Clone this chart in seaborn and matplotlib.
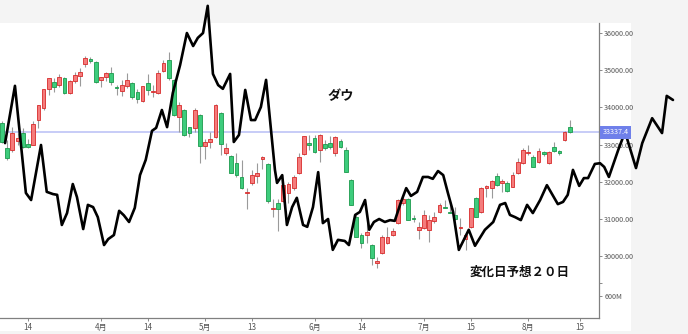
import numpy as np
import pandas as pd
import matplotlib
matplotlib.use("Agg")
import matplotlib.pyplot as plt
import matplotlib.transforms as mtransforms
from matplotlib.patches import Rectangle
import seaborn as sns

# ---- data (trading-day index, 0 = 14 March) ----
day = list(range(-5, 105))
opens = [33580, 32910, 32850, 33100, 33310, 33020, 32990, 33660, 33980, 34500,
         34680, 34600, 34790, 34390, 34710, 34840, 35170, 35300, 35220, 34740,
         34820, 34930, 34550, 34440, 34580, 34660, 34410, 34170, 34660, 34410,
         34390, 34980, 35270, 34740, 33740, 33930, 33470, 33450, 33800, 32960,
         33070, 33200, 33850, 32770, 32690, 32510, 32130, 31700, 31970, 32160,
         32610, 32480, 31270, 31430, 31480, 31700, 31830, 32240, 32750, 33040,
         33180, 32860, 33020, 33040, 32770, 33100, 32860, 32050, 31050, 30570,
         30570, 30300, 29820, 30090, 30360, 30570, 30890, 31430, 31540, 31030,
         30700, 30760, 30700, 30950, 31190, 31320, 31190, 31110, 30760, 30460,
         30790, 31570, 31190, 31830, 31830, 32160, 31970, 31970, 31860, 32240,
         32510, 32770, 32670, 32530, 32800, 32510, 32940, 32830, 33120, 33470]
highs = [33630, 33120, 33470, 33310, 33450, 33150, 33630, 34070, 34500, 34790,
         34790, 34900, 34820, 34740, 34950, 35060, 35380, 35360, 35250, 34820,
         34950, 35090, 34600, 34740, 34930, 34680, 34500, 34580, 34900, 34600,
         35010, 35270, 35490, 34760, 34150, 33960, 33480, 33980, 33820, 33150,
         33340, 34090, 33870, 33040, 32720, 32770, 32590, 31830, 32320, 32510,
         32690, 32510, 31540, 31540, 31940, 32000, 32180, 32770, 33240, 33260,
         33260, 33280, 33120, 33230, 33220, 33150, 32940, 32070, 31110, 30620,
         30890, 30320, 29980, 30570, 30790, 30760, 31530, 31590, 31570, 31110,
         30920, 31240, 31110, 31190, 31430, 31510, 31460, 31320, 31030, 30620,
         31300, 31590, 31860, 31910, 32050, 32240, 32080, 32020, 32260, 32640,
         32910, 32990, 32720, 32910, 32830, 32830, 33070, 32860, 33370, 33660]
lows = [33040, 32590, 32800, 32990, 32910, 32910, 32990, 33450, 33930, 34330,
        34410, 34550, 34360, 34360, 34660, 34580, 35090, 35190, 34650, 34550,
        34710, 34600, 34330, 34310, 34520, 34230, 34120, 34150, 34330, 34280,
        34360, 34950, 34740, 33780, 33340, 33240, 33210, 33340, 32510, 32610,
        32910, 33180, 32720, 32720, 32240, 32130, 31800, 31270, 31910, 31970,
        32340, 31430, 31050, 30680, 31460, 31430, 31780, 32220, 32720, 32860,
        32770, 32530, 32860, 32880, 32690, 32910, 32260, 31380, 30520, 30220,
        30360, 29760, 29680, 30060, 30340, 30550, 30870, 31380, 30970, 30920,
        30460, 30730, 30380, 30890, 31160, 31290, 31160, 30970, 30570, 30170,
        30760, 31050, 31160, 31590, 31570, 31890, 31730, 31730, 31860, 32220,
        32490, 32720, 32400, 32500, 32690, 32490, 32800, 32720, 33100, 33310]
closes = [33070, 32640, 33310, 33180, 32940, 32940, 33550, 34070, 34500, 34790,
          34550, 34820, 34390, 34710, 34870, 34950, 35330, 35250, 34680, 34820,
          34930, 34680, 34520, 34600, 34740, 34280, 34230, 34580, 34470, 34440,
          34930, 35190, 34790, 33800, 34070, 33260, 33310, 33930, 32960, 33070,
          33150, 34070, 33020, 32910, 32240, 32180, 31830, 31730, 32180, 32240,
          32670, 31480, 31300, 31270, 31910, 31940, 32130, 32670, 33230, 32990,
          32800, 33260, 32910, 32940, 33200, 32940, 32260, 31380, 30520, 30360,
          30650, 29950, 29870, 30520, 30520, 30680, 31510, 31540, 30970, 31000,
          30790, 31110, 30970, 31050, 31380, 31300, 31160, 31000, 30790, 30570,
          31300, 31050, 31830, 31890, 32020, 31910, 32020, 31750, 32180, 32530,
          32850, 32800, 32400, 32830, 32750, 32800, 32830, 32770, 33340, 33337]

# forecast line (trading-day index, value)
line_day = [-4.4, -2.5, -0.4, 0.6, 2.5, 3.6, 4.8, 5.6, 6.5, 7.5, 8.6, 9.4, 10.6,
            11.5, 12.5, 13.4, 14.6, 15.4, 16.5, 17.5, 18.4, 19.4, 20.5, 21.5,
            22.6, 23.8, 24.6, 25.7, 26.7, 27.8, 29.2, 30.5, 31.7, 32.6, 33.6,
            34.5, 35.5, 36.5, 37.4, 38.8, 39.5, 40.5, 41.7, 42.8, 43.6, 44.7,
            45.7, 47.4, 47.8, 48.8, 49.7, 50.7, 51.6, 52.8, 53.6, 54.7, 55.7,
            56.6, 57.6, 58.5, 59.5, 60.8, 61.6, 62.8, 63.7, 64.7, 65.5, 66.4,
            67.4, 68.5, 69.5, 70.4, 71.6, 72.6, 73.5, 74.7, 75.8, 76.8, 77.7,
            78.7, 79.7, 80.6, 81.6, 82.7, 84.6, 85.8, 87.7, 89.3, 90.6, 91.6,
            92.5, 93.5, 94.6, 95.8, 96.9, 98.3, 99.6, 101.7, 102.7, 103.6,
            104.6, 105.8, 106.7, 107.5, 108.8, 109.8, 110.6, 111.5, 113.3,
            114.6, 116.7, 117.9, 119.8, 121.7, 122.6, 123.8]
line_value = [33040, 34580, 31700, 31510, 32990, 31730, 31670, 31650, 30840,
              31160, 31940, 31590, 30730, 31380, 31320, 31050, 30300, 30460,
              30570, 31220, 31100, 30920, 31300, 32180, 32590, 33370, 33450,
              33930, 33470, 34390, 35140, 36000, 35650, 35870, 36000, 36730,
              34900, 34600, 34500, 34900, 33070, 33260, 34470, 33660, 33660,
              34010, 34740, 32320, 31970, 32180, 30840, 31320, 31570, 30840,
              30790, 31320, 32260, 30890, 31000, 30170, 30440, 30410, 30300,
              31110, 31190, 31510, 30710, 30920, 31000, 30920, 30970, 30950,
              31460, 31830, 31620, 31730, 32130, 32130, 32080, 32290, 32180,
              31700, 31190, 30170, 30710, 30280, 30710, 30920, 31380, 31430,
              31110, 31050, 30970, 31380, 31160, 31510, 31910, 31400, 31460,
              31650, 32320, 31890, 32100, 32100, 32480, 32500, 32400, 32130,
              32860, 33340, 32370, 33040, 33710, 33310, 34310, 34200]

tick_days = [0, 14, 23, 34, 43, 55, 64, 76, 85, 96, 106]
tick_labels = ["14", "4月", "14", "5月", "13", "6月", "14", "7月", "15", "8月", "15"]
price_ticks = [36000, 35000, 34000, 33000, 32000, 31000, 30000]
vol_ticks = [29280, 28930]
vol_labels = ["", "600M"]
last_price = 33337.4

# ---- style ----
sns.set_theme(style="white")
plt.rcParams["font.family"] = ["Liberation Sans Narrow", "Noto Sans CJK JP", "DejaVu Sans"]

df = pd.DataFrame({"day": day, "open": opens, "high": highs, "low": lows, "close": closes})
up = df["close"] >= df["open"]
face = np.where(up, "#f47c7c", "#3dcc7c")
edge = np.where(up, "#d82a2a", "#1b9a4c")

fig = plt.figure(figsize=(6.88, 3.34), dpi=100, facecolor="#f4f4f4")
fig.patches.append(Rectangle((0, 3 / 334), 631 / 688, 308 / 334, transform=fig.transFigure,
                             facecolor="white", edgecolor="none", zorder=-5))
ax = fig.add_axes([0, 16 / 334, 599 / 688, 295 / 334])
ax.set_facecolor("none")

# reference line
ax.axhline(last_price, color="#c3c8f7", lw=1.3, zorder=1)

# candles
ax.vlines(df["day"], df["low"], df["high"], color="#9a9a9a", lw=0.8, zorder=2)
ax.bar(df["day"], (df["close"] - df["open"]).abs(), bottom=np.minimum(df["open"], df["close"]),
       width=0.72, color=face, edgecolor=edge, linewidth=0.6, zorder=3)

# forecast line
sns.lineplot(x=line_day, y=line_value, sort=False, estimator=None, color="black",
             lw=1.9, ax=ax, clip_on=False, zorder=6)

ax.set_xlim(-5.37, 109.6)
ax.set_ylim(28339, 36269)

ax.yaxis.tick_right()
ax.set_yticks(price_ticks + vol_ticks,
              [f"{v:.2f}" for v in price_ticks] + vol_labels)
ax.set_xticks(tick_days, tick_labels)
ax.tick_params(axis="y", length=2.5, width=0.6, color="#777777", labelsize=5.2,
               labelcolor="#555555", pad=1.2, right=True, left=False)
ax.tick_params(axis="x", length=2.5, width=0.6, color="#777777", labelsize=5.8,
               labelcolor="#555555", pad=1.2, bottom=True)
for s in ["left", "top"]:
    ax.spines[s].set_visible(False)
for s in ["right", "bottom"]:
    ax.spines[s].set_color("#808080")
    ax.spines[s].set_linewidth(0.9)
ax.set_xlabel("")
ax.set_ylabel("")
ax.grid(False)

trans = mtransforms.blended_transform_factory(ax.transAxes, ax.transData)
ax.text(1.006, last_price, f"{last_price:.1f}", transform=trans, ha="left", va="center",
        fontsize=5.2, color="white", zorder=7,
        bbox=dict(boxstyle="square,pad=0.35", fc="#6f80ea", ec="none"))

fig.text(341 / 688, 1 - 96 / 334, "ダウ", ha="center", va="center", fontsize=9.5,
         fontweight="bold", family=["Noto Sans CJK JP"], color="#111111")
fig.text(520 / 688, 1 - 272 / 334, "変化日予想２０日", ha="center", va="center", fontsize=9,
         fontweight="bold", family=["Noto Sans CJK JP"], color="#111111")

fig.savefig("out.png", dpi=100, facecolor=fig.get_facecolor())
